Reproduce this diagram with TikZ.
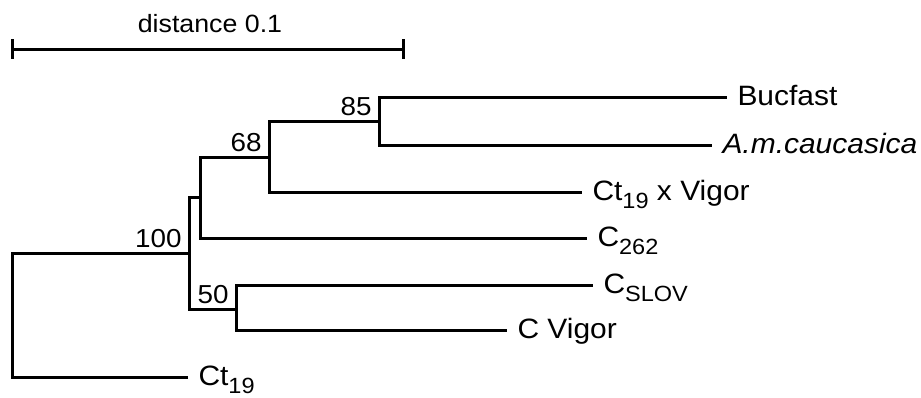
\documentclass[tikz,border=0pt]{standalone}
\usepackage{fontspec}
\setmainfont[FakeStretch=1.07]{Liberation Sans}
\newcommand{\lsub}[1]{\raisebox{-0.32em}{\fontsize{22pt}{22pt}\selectfont #1}}

\tikzset{
	leaf/.style={anchor=west,inner xsep=9pt,inner ysep=0pt,text height=16pt,text depth=0pt,font=\fontsize{28pt}{28pt}\selectfont},
	boot/.style={anchor=base east,inner sep=0pt,xshift=-6pt,yshift=6pt,font=\fontsize{26pt}{26pt}\selectfont}
}

\begin{document}
\begin{tikzpicture}[x=1pt,y=-1pt,line width=3pt]
		\useasboundingbox (0,0) rectangle (921,397);
		% scale bar
		\coordinate (S1) at (12,49);
		\coordinate (S2) at (403,49);
		\draw (S1)--(S2);
		\draw ([yshift=10pt]S1)--([yshift=-10pt]S1);
		\draw ([yshift=10pt]S2)--([yshift=-10pt]S2);
		\node[anchor=base,inner sep=0pt,font=\fontsize{25pt}{25pt}\selectfont] (dist) at (210,32) {distance 0.1};
		
		% inner nodes
		\coordinate (R) at (12,253);
		\coordinate (N100) at (189,253);
		\coordinate (NC) at (200,197);
		\coordinate (N68) at (269,157);
		\coordinate (N85) at (379,121);
		\coordinate (N50) at (236,309);
		\node[boot] (L100) at (N100) {100};
		\node[boot] (L68) at (N68) {68};
		\node[boot] (L85) at (N85) {85};
		\node[boot] (L50) at (N50) {50};
		
		% leaves
		\node[leaf] (buc) at (727,97) {Bucfast};
		\node[leaf] (amc) at (712,145) {\itshape A.m.caucasica};
		\node[leaf] (ctv) at (582,192) {Ct\lsub{19} x Vigor};
		\node[leaf] (c262) at (587,238) {C\lsub{262}};
		\node[leaf] (cslov) at (593,285) {C\lsub{SLOV}};
		\node[leaf] (cvig) at (507,330) {C Vigor};
		\node[leaf] (ct19) at (188,377) {Ct\lsub{19}};
		
		% branches
		\draw (ct19.west) -| (R) -- (N100);
		\draw (N100) |- (NC);
		\draw (N100) |- (N50);
		\draw (NC) |- (N68);
		\draw (NC) |- (c262.west);
		\draw (N68) |- (N85);
		\draw (N68) |- (ctv.west);
		\draw (N85) |- (buc.west);
		\draw (N85) |- (amc.west);
		\draw (N50) |- (cslov.west);
		\draw (N50) |- (cvig.west);
\end{tikzpicture}
\end{document}
